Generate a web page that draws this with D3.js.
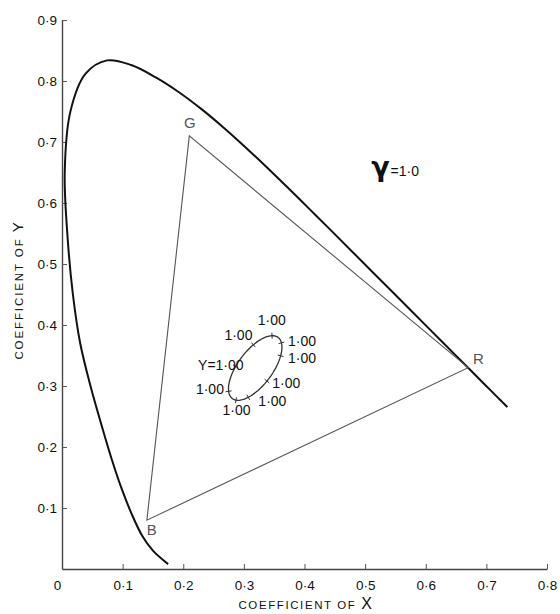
<!DOCTYPE html>
<html>
<head>
<meta charset="utf-8">
<script src="https://cdn.jsdelivr.net/npm/d3@7"></script>
<style>
  body { margin: 0; background: #fff; }
  svg { display: block; }
  text { font-family: "Liberation Sans", "DejaVu Sans", sans-serif; fill: #111; }
</style>
</head>
<body>
<div id="chart"></div>
<script>
// spectral locus (x, y), violet end -> red end
var locusX = [0.1750, 0.1500, 0.1320, 0.1150, 0.0990, 0.0820, 0.0640, 0.0470, 0.0300, 0.0180,
  0.0095, 0.0045, 0.0139, 0.0389, 0.0743, 0.1142, 0.1547, 0.1929, 0.2296, 0.2658,
  0.3016, 0.3373, 0.3731, 0.4087, 0.4441, 0.4788, 0.5125, 0.5448, 0.5752, 0.6029,
  0.6270, 0.6482, 0.6658, 0.6801, 0.6915, 0.7006, 0.7079, 0.7140, 0.7190, 0.7230,
  0.7260, 0.7300, 0.7320, 0.7347];
var locusY = [0.0080, 0.0300, 0.0550, 0.0900, 0.1300, 0.1800, 0.2400, 0.3000, 0.3700, 0.4500,
  0.5400, 0.6500, 0.7502, 0.8120, 0.8338, 0.8262, 0.8059, 0.7816, 0.7543, 0.7243,
  0.6923, 0.6589, 0.6245, 0.5896, 0.5547, 0.5202, 0.4866, 0.4544, 0.4242, 0.3965,
  0.3725, 0.3514, 0.3340, 0.3197, 0.3083, 0.2993, 0.2920, 0.2859, 0.2809, 0.2770,
  0.2740, 0.2700, 0.2680, 0.2653];

// primaries
var primaryNames = ["R", "G", "B"];
var primaryX = [0.67, 0.21, 0.14];
var primaryY = [0.33, 0.71, 0.08];
var primaryLabelX = [0.687, 0.211, 0.148];
var primaryLabelY = [0.343, 0.730, 0.063];

// ellipse of equal gamma: centre, semi axes (data units), tilt in degrees
var ellipseCentre = [0.3187, 0.3295];
var ellipseAxes = [0.0628, 0.0285];
var ellipseTilt = 53;
var tickAngles = [20, 63, -20, -49, 106, -95, 155, -136, -167];
var ellipseLabels = ["1·00", "1·00", "1·00", "1·00", "Y=1·00", "1·00", "1·00", "1·00", "1·00"];
var ellipseLabelX = [0.346, 0.291, 0.396, 0.396, 0.262, 0.370, 0.244, 0.347, 0.288];
var ellipseLabelY = [0.406, 0.381, 0.371, 0.344, 0.333, 0.303, 0.293, 0.274, 0.259];

var xTicks = [0, 0.1, 0.2, 0.3, 0.4, 0.5, 0.6, 0.7, 0.8];
var yTicks = [0.1, 0.2, 0.3, 0.4, 0.5, 0.6, 0.7, 0.8, 0.9];

var width = 560, height = 614;

var x = d3.scaleLinear().domain([0, 0.8]).range([62, 547]);
var y = d3.scaleLinear().domain([0, 0.9]).range([569, 20]);

var svg = d3.select("#chart").append("svg")
  .attr("width", width)
  .attr("height", height);

function fmt(d) {
  return d === 0 ? "0" : d3.format(".1f")(d).replace(".", "·");
}

// axes
var xAxis = svg.append("g")
  .attr("transform", "translate(0," + y(0) + ")")
  .call(d3.axisBottom(x).tickValues(xTicks).tickFormat(fmt).tickSize(-5).tickSizeOuter(0).tickPadding(11));
var yAxis = svg.append("g")
  .attr("transform", "translate(" + x(0) + ",0)")
  .call(d3.axisLeft(y).tickValues(yTicks).tickFormat(fmt).tickSize(-5).tickSizeOuter(0).tickPadding(5));

[xAxis, yAxis].forEach(function(g) {
  g.select(".domain").attr("stroke", "#444").attr("stroke-width", 1.4);
  g.selectAll(".tick line").attr("stroke", "#555").attr("stroke-width", 1);
  g.selectAll(".tick text")
    .attr("font-size", 13.5)
    .attr("font-family", "Liberation Sans, sans-serif")
    .attr("fill", "#111");
});
xAxis.selectAll(".tick text").filter(function(d) { return d === 0; }).attr("dx", -5);

// axis titles
var xTitle = svg.append("text")
  .attr("x", 306)
  .attr("y", 609)
  .attr("text-anchor", "middle")
  .attr("font-size", 11.5)
  .attr("letter-spacing", 1.6)
  .attr("fill", "#222");
xTitle.append("tspan").text("COEFFICIENT OF ");
xTitle.append("tspan").attr("font-size", 16).text("X");

var yTitle = svg.append("text")
  .attr("transform", "translate(23,290) rotate(-90)")
  .attr("text-anchor", "middle")
  .attr("font-size", 11.5)
  .attr("letter-spacing", 1.9)
  .attr("fill", "#222");
yTitle.append("tspan").text("COEFFICIENT OF ");
yTitle.append("tspan").attr("font-size", 15).text("Y");

// spectral locus
var locus = locusX.map(function(d, i) { return [d, locusY[i]]; });
svg.append("path")
  .datum(locus)
  .attr("fill", "none")
  .attr("stroke", "#111")
  .attr("stroke-width", 2)
  .attr("d", d3.line()
    .x(function(d) { return x(d[0]); })
    .y(function(d) { return y(d[1]); })
    .curve(d3.curveCatmullRom));

// colour triangle
var tri = primaryX.map(function(d, i) { return [d, primaryY[i]]; });
svg.append("path")
  .datum(tri)
  .attr("fill", "none")
  .attr("stroke", "#555")
  .attr("stroke-width", 1.1)
  .attr("d", d3.line()
    .x(function(d) { return x(d[0]); })
    .y(function(d) { return y(d[1]); })
    .curve(d3.curveLinearClosed));

svg.selectAll(".prim")
  .data(primaryNames)
  .enter().append("text")
  .attr("class", "prim")
  .attr("x", function(d, i) { return x(primaryLabelX[i]); })
  .attr("y", function(d, i) { return y(primaryLabelY[i]); })
  .attr("text-anchor", "middle")
  .attr("dominant-baseline", "middle")
  .attr("font-size", 15)
  .style("fill", "#555")
  .text(function(d) { return d; });

// gamma label
var gam = svg.append("text")
  .attr("x", x(0.510))
  .attr("y", y(0.645));
gam.append("tspan")
  .attr("font-size", 27)
  .attr("font-weight", "bold")
  .attr("font-family", "DejaVu Sans, sans-serif")
  .text("γ");
gam.append("tspan")
  .attr("font-size", 14)
  .attr("dx", 1)
  .text("=1·0");

// ellipse
var th = ellipseTilt * Math.PI / 180;
function ellipsePoint(t) {
  var a = ellipseAxes[0], b = ellipseAxes[1];
  return [
    ellipseCentre[0] + a * Math.cos(t) * Math.cos(th) - b * Math.sin(t) * Math.sin(th),
    ellipseCentre[1] + a * Math.cos(t) * Math.sin(th) + b * Math.sin(t) * Math.cos(th)
  ];
}
var ellPts = d3.range(0, 73).map(function(i) { return ellipsePoint(i * 5 * Math.PI / 180); });
svg.append("path")
  .datum(ellPts)
  .attr("fill", "none")
  .attr("stroke", "#333")
  .attr("stroke-width", 1.3)
  .attr("d", d3.line()
    .x(function(d) { return x(d[0]); })
    .y(function(d) { return y(d[1]); }));

// small cross ticks on ellipse
tickAngles.forEach(function(deg) {
  var t = deg * Math.PI / 180;
  var p = ellipsePoint(t);
  var q = ellipsePoint(t + 0.02);
  var px = x(p[0]), py = y(p[1]);
  var dx = x(q[0]) - px, dy = y(q[1]) - py;
  var len = Math.sqrt(dx * dx + dy * dy);
  var nx = -dy / len * 3, ny = dx / len * 3;
  svg.append("line")
    .attr("x1", px - nx).attr("y1", py - ny)
    .attr("x2", px + nx).attr("y2", py + ny)
    .attr("stroke", "#333")
    .attr("stroke-width", 1);
});

svg.selectAll(".ell")
  .data(ellipseLabels)
  .enter().append("text")
  .attr("class", "ell")
  .attr("x", function(d, i) { return x(ellipseLabelX[i]); })
  .attr("y", function(d, i) { return y(ellipseLabelY[i]); })
  .attr("text-anchor", "middle")
  .attr("dominant-baseline", "middle")
  .attr("font-size", 14)
  .text(function(d) { return d; });
</script>
</body>
</html>
